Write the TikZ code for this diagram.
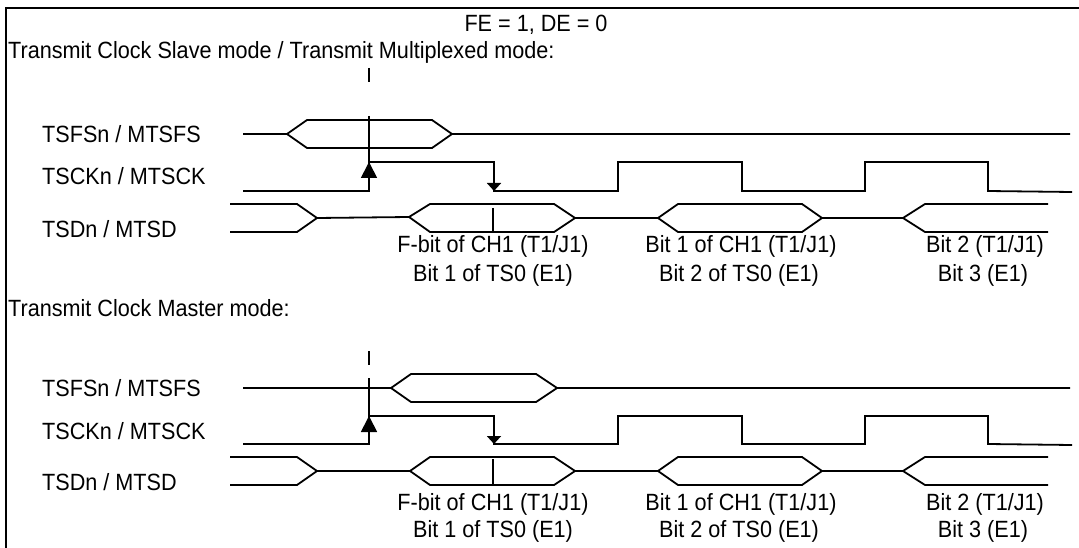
\documentclass[tikz,border=0pt]{standalone}
\usepackage{fontspec}
\setmainfont{Liberation Sans}[FakeStretch=0.92]
\usetikzlibrary{arrows.meta}
\begin{document}
\begin{tikzpicture}[x=1pt, y=-1pt,
    sig/.style={line width=1.8pt},
    txt/.style={font=\fontsize{23.5}{28}\selectfont, inner sep=0pt, anchor=base},
    uparr/.style={line width=1.8pt, -{Triangle[length=16pt,width=16pt]}},
    dnarr/.style={line width=1.8pt, -{Triangle[length=8pt,width=14pt]}}]
    \useasboundingbox (0,0) rectangle (1079,548);
    \draw[line width=2pt] (6,548) -- (6,8) -- (1079,8);
    \node[txt] (fede) at (536,32) {FE = 1, DE = 0};

    % slave / multiplexed mode
    \node[txt, anchor=base west] (slv) at (8,59) {Transmit Clock Slave mode / Transmit Multiplexed mode:};
    \node[txt, anchor=base west] (fsA) at (42,143) {TSFSn / MTSFS};
    \node[txt, anchor=base west] (ckA) at (42,185) {TSCKn / MTSCK};
    \node[txt, anchor=base west] (sdA) at (42,237) {TSDn / MTSD};
    \draw[sig] (369,68) -- (369,82);
    \draw[sig] (369,116) -- (369,162);
    \draw[sig] (243,134) -- (287,134) -- (307,120) -- (432,120) -- (452,134) -- (1070,134);
    \draw[sig] (287,134) -- (307,148) -- (432,148) -- (452,134);
    \draw[sig] (243,191) -- (369,191) -- (369,162) -- (494,162) -- (494,191) -- (618,191)
        -- (618,162) -- (742,162) -- (742,191) -- (865,191) -- (865,162) -- (988,162)
        -- (988,191) -- (1072,192);
    \draw[uparr] (369,191) -- (369,162);
    \draw[dnarr] (494,175) -- (494,191);
    \draw[sig] (230,204) -- (297,204) -- (317,218) -- (297,232) -- (230,232);
    \draw[sig] (317,218) -- (409,217);
    \draw[sig] (409,217) -- (430,204) -- (554,204) -- (575,218) -- (554,232) -- (430,232) -- cycle;
    \draw[sig] (575,218) -- (658,218);
    \draw[sig] (658,218) -- (678,204) -- (802,204) -- (822,218) -- (802,232) -- (678,232) -- cycle;
    \draw[sig] (822,218) -- (903,218);
    \draw[sig] (1048,204) -- (925,204) -- (903,218) -- (925,232) -- (1048,232);
    \draw[sig] (493,208) -- (493,232);
    \node[txt] (bA1) at (493,253) {F-bit of CH1 (T1/J1)};
    \node[txt] (bA2) at (493,281) {Bit 1 of TS0 (E1)};
    \node[txt] (bA3) at (741,253) {Bit 1 of CH1 (T1/J1)};
    \node[txt] (bA4) at (739,281) {Bit 2 of TS0 (E1)};
    \node[txt] (bA5) at (985,253) {Bit 2 (T1/J1)};
    \node[txt] (bA6) at (983,281) {Bit 3 (E1)};

    % master mode
    \node[txt, anchor=base west] (mst) at (8,316) {Transmit Clock Master mode:};
    \node[txt, anchor=base west] (fsB) at (42,396) {TSFSn / MTSFS};
    \node[txt, anchor=base west] (ckB) at (42,439) {TSCKn / MTSCK};
    \node[txt, anchor=base west] (sdB) at (42,490) {TSDn / MTSD};
    \draw[sig] (369,351) -- (369,365);
    \draw[sig] (369,378) -- (369,416);
    \draw[sig] (243,388) -- (391,388) -- (411,374) -- (536,374) -- (557,388) -- (1070,388);
    \draw[sig] (391,388) -- (411,402) -- (536,402) -- (557,388);
    \draw[sig] (243,444) -- (369,444) -- (369,416) -- (494,416) -- (494,444) -- (618,444)
        -- (618,416) -- (742,416) -- (742,444) -- (865,444) -- (865,416) -- (988,416)
        -- (988,444) -- (1072,445);
    \draw[uparr] (369,444) -- (369,416);
    \draw[dnarr] (494,428) -- (494,444);
    \draw[sig] (230,457) -- (297,457) -- (317,471) -- (297,485) -- (230,485);
    \draw[sig] (317,471) -- (410,471);
    \draw[sig] (410,471) -- (430,457) -- (554,457) -- (575,471) -- (554,485) -- (430,485) -- cycle;
    \draw[sig] (575,471) -- (658,471);
    \draw[sig] (658,471) -- (678,457) -- (802,457) -- (822,471) -- (802,485) -- (678,485) -- cycle;
    \draw[sig] (822,471) -- (903,471);
    \draw[sig] (1048,457) -- (925,457) -- (903,471) -- (925,485) -- (1048,485);
    \draw[sig] (493,459) -- (493,485);
    \node[txt] (bB1) at (493,510) {F-bit of CH1 (T1/J1)};
    \node[txt] (bB2) at (493,537) {Bit 1 of TS0 (E1)};
    \node[txt] (bB3) at (741,510) {Bit 1 of CH1 (T1/J1)};
    \node[txt] (bB4) at (739,537) {Bit 2 of TS0 (E1)};
    \node[txt] (bB5) at (985,510) {Bit 2 (T1/J1)};
    \node[txt] (bB6) at (983,537) {Bit 3 (E1)};
\end{tikzpicture}
\end{document}
